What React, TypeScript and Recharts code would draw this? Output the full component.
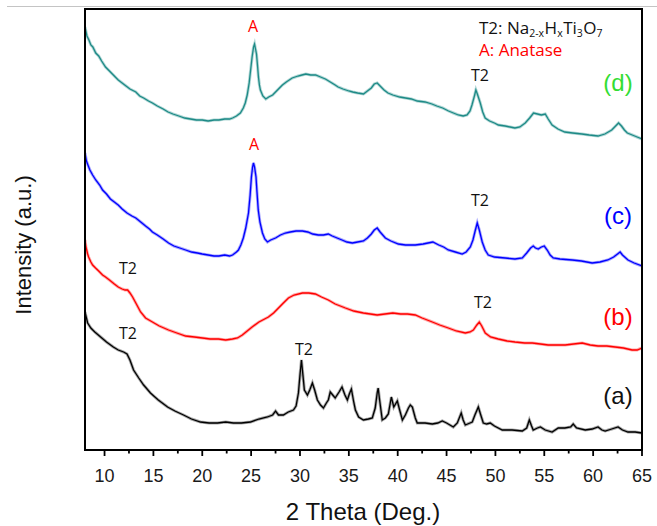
import React from 'react';
import { LineChart, Line, XAxis, YAxis } from 'recharts';

// 2θ tick positions (majors every 5°, minors halfway between)
const thetaTicks = [10, 12.5, 15, 17.5, 20, 22.5, 25, 27.5, 30, 32.5, 35, 37.5, 40, 42.5, 45, 47.5, 50, 52.5, 55, 57.5, 60, 62.5, 65];

// Each pattern: [2θ (deg), offset intensity (a.u.)]
const patternA: [number, number][] = [
  [8.0, 138], [8.27, 127], [8.6, 122], [9.0, 118], [9.6, 113], [10.2, 108], [10.9, 103], [11.4, 100],
  [11.95, 98], [12.3, 96], [12.6, 90], [12.97, 80], [13.5, 72], [14.0, 65], [14.7, 57], [15.5, 50],
  [16.45, 43], [17.2, 39], [18.08, 35], [18.9, 31], [19.82, 28], [20.7, 27], [21.56, 27], [22.4, 28],
  [23.19, 27], [24.0, 27], [24.93, 28], [25.8, 31], [26.67, 33], [27.2, 35], [27.5, 39], [27.8, 35],
  [28.3, 35], [28.8, 38], [29.33, 40], [29.6, 44], [29.84, 57], [30.0, 75], [30.15, 90], [30.3, 75],
  [30.45, 60], [30.76, 55], [31.0, 60], [31.27, 67], [31.5, 60], [31.78, 50], [32.1, 45], [32.4, 42],
  [32.7, 47], [32.9, 50], [33.1, 58], [33.35, 55], [33.6, 52], [34.0, 58], [34.3, 63], [34.6, 55],
  [34.85, 50], [35.05, 56], [35.26, 61], [35.5, 48], [35.67, 40], [36.0, 33], [36.49, 30], [37.0, 31],
  [37.4, 32], [37.7, 42], [37.9, 57], [38.0, 62], [38.15, 50], [38.42, 30], [38.74, 32], [39.04, 36],
  [39.35, 53], [39.5, 47], [39.6, 43], [39.96, 49], [40.2, 40], [40.48, 30], [40.78, 35], [41.1, 42],
  [41.29, 45], [41.5, 43], [41.8, 32], [42.0, 27], [42.8, 27], [43.54, 26], [44.1, 27], [44.56, 29],
  [45.0, 27], [45.69, 23], [46.1, 27], [46.5, 37], [46.7, 30], [46.92, 25], [47.4, 27], [47.63, 28],
  [47.9, 35], [48.25, 43], [48.5, 35], [48.76, 27], [49.1, 26], [49.47, 27], [49.9, 24], [50.7, 20],
  [51.7, 20], [52.75, 19], [53.2, 22], [53.47, 30], [53.7, 24], [53.87, 20], [54.3, 22], [54.6, 23],
  [55.1, 20], [55.8, 18], [56.43, 22], [57.1, 22], [57.7, 23], [57.96, 26], [58.3, 22], [59.19, 20],
  [59.9, 21], [60.5, 23], [60.9, 20], [61.23, 19], [61.9, 21], [62.55, 23], [63.0, 20], [63.57, 18],
  [64.3, 18], [65.0, 17],
];

const patternB: [number, number][] = [
  [8.0, 210], [8.1, 203], [8.27, 196], [8.37, 193], [8.6, 188], [8.78, 185], [9.08, 182], [9.4, 179],
  [9.8, 175], [10.1, 173], [10.5, 170], [11.0, 166], [11.4, 163], [11.8, 161], [12.1, 160], [12.36, 160],
  [12.6, 157], [12.87, 153], [13.2, 147], [13.69, 138], [14.2, 132], [14.9, 128], [15.6, 124], [16.55, 120],
  [17.4, 117], [18.29, 114], [19.2, 113], [20.02, 112], [20.8, 111], [21.66, 111], [22.4, 110], [23.09, 111],
  [23.6, 112], [24.1, 115], [24.6, 119], [25.1, 123], [25.8, 128], [26.77, 133], [27.3, 137], [27.8, 142],
  [28.3, 147], [28.82, 152], [29.4, 155], [30.25, 157], [30.9, 157], [31.58, 156], [32.2, 153], [32.9, 150],
  [33.6, 146], [34.65, 142], [35.5, 139], [36.49, 137], [37.2, 136], [37.9, 135], [38.7, 136], [39.5, 137],
  [40.3, 136], [41.0, 136], [41.8, 135], [42.5, 132], [43.54, 128], [44.3, 125], [45.18, 122], [46.0, 119],
  [46.92, 117], [47.4, 118], [47.74, 120], [48.1, 125], [48.35, 128], [48.6, 124], [48.96, 117], [49.5, 113],
  [50.29, 111], [51.2, 109], [52.0, 108], [53.0, 107], [53.77, 107], [54.6, 106], [55.4, 105], [56.3, 105],
  [57.14, 105], [58.0, 106], [58.88, 107], [59.7, 105], [60.5, 104], [61.4, 104], [62.25, 103], [63.1, 102],
  [63.98, 100], [64.5, 100], [65.0, 102],
];

const patternC: [number, number][] = [
  [8.0, 297], [8.15, 289], [8.3, 285], [8.5, 280], [8.78, 275], [9.1, 270], [9.5, 265], [9.8, 260],
  [10.2, 256], [10.6, 251], [11.0, 248], [11.4, 245], [11.8, 241], [12.3, 237], [12.8, 234], [13.2, 232],
  [13.7, 228], [14.2, 224], [14.6, 221], [14.9, 218], [15.4, 215], [16.0, 211], [16.55, 207], [17.1, 204],
  [17.7, 202], [18.3, 200], [18.9, 198], [19.5, 197], [20.0, 196], [20.6, 195], [21.2, 194], [21.7, 194],
  [22.3, 195], [22.8, 194], [23.1, 195], [23.5, 198], [23.7, 200], [23.95, 205], [24.2, 212], [24.45, 222],
  [24.73, 237], [24.9, 255], [25.03, 273], [25.15, 283], [25.24, 287], [25.35, 283], [25.5, 273], [25.6, 258],
  [25.73, 240], [25.9, 228], [26.16, 217], [26.4, 211], [26.67, 208], [27.0, 210], [27.5, 212], [28.0, 215],
  [28.5, 217], [29.0, 218], [29.6, 219], [30.25, 219], [30.8, 218], [31.3, 216], [31.88, 215], [32.4, 215],
  [32.9, 216], [33.3, 214], [33.8, 212], [34.3, 210], [34.8, 208], [35.36, 207], [35.9, 208], [36.49, 209],
  [36.9, 212], [37.3, 216], [37.6, 220], [37.9, 222], [38.2, 218], [38.74, 212], [39.3, 209], [40.07, 206],
  [40.8, 205], [41.8, 205], [42.6, 206], [43.1, 207], [43.6, 208], [44.2, 205], [44.7, 203], [45.18, 200],
  [45.9, 198], [46.6, 196], [47.0, 198], [47.43, 203], [47.7, 210], [47.95, 220], [48.14, 227], [48.35, 220],
  [48.65, 208], [48.95, 200], [49.27, 195], [49.9, 193], [51.0, 192], [52.0, 191], [52.75, 192], [53.2, 197],
  [53.6, 202], [53.87, 204], [54.1, 202], [54.38, 201], [54.7, 203], [55.0, 204], [55.3, 200], [55.6, 195],
  [55.92, 192], [56.6, 191], [57.86, 190], [58.8, 189], [59.9, 187], [60.7, 188], [61.5, 190], [62.1, 193],
  [62.5, 196], [62.76, 198], [63.0, 195], [63.57, 190], [64.2, 187], [65.0, 184],
];

const patternD: [number, number][] = [
  [8.0, 423], [8.2, 414], [8.4, 410], [8.6, 405], [8.8, 403], [9.1, 397], [9.4, 394], [9.7, 389],
  [10.1, 383], [10.4, 380], [10.8, 376], [11.1, 373], [11.4, 370], [11.8, 367], [12.2, 364], [12.6, 361],
  [13.2, 358], [13.6, 354], [14.0, 352], [14.5, 349], [14.9, 347], [15.4, 344], [16.0, 341], [16.5, 338],
  [17.0, 336], [17.6, 334], [18.2, 332], [18.8, 331], [19.4, 330], [20.0, 330], [20.6, 329], [21.2, 330],
  [21.7, 330], [22.3, 331], [22.8, 331], [23.1, 332], [23.5, 334], [23.9, 337], [24.2, 342], [24.4, 347],
  [24.6, 355], [24.8, 367], [24.95, 380], [25.1, 393], [25.25, 403], [25.35, 406], [25.45, 401], [25.55, 396],
  [25.65, 385], [25.75, 373], [25.85, 365], [25.95, 360], [26.2, 354], [26.5, 351], [26.8, 353], [27.2, 355],
  [27.6, 359], [28.0, 363], [28.2, 365], [28.6, 368], [29.2, 372], [29.8, 374], [30.2, 375], [30.6, 376],
  [31.1, 375], [31.6, 375], [32.1, 373], [32.6, 371], [33.1, 368], [33.6, 365], [33.9, 363], [34.4, 361],
  [35.0, 359], [35.4, 358], [35.9, 357], [36.5, 356], [36.9, 359], [37.3, 362], [37.6, 366], [37.9, 367],
  [38.2, 364], [38.6, 360], [39.0, 357], [39.5, 355], [40.2, 353], [40.8, 352], [41.4, 351], [42.0, 349],
  [42.8, 348], [43.5, 346], [44.0, 344], [44.6, 342], [45.2, 339], [45.7, 337], [46.2, 335], [46.7, 334],
  [47.1, 335], [47.4, 339], [47.6, 345], [47.85, 354], [48.0, 360], [48.15, 356], [48.45, 347], [48.7, 338],
  [48.95, 332], [49.4, 329], [49.9, 327], [50.3, 325], [51.0, 324], [51.5, 323], [52.0, 322], [52.5, 323],
  [53.05, 327], [53.5, 332], [53.9, 337], [54.3, 336], [54.7, 335], [55.1, 336], [55.4, 331], [55.8, 325],
  [56.4, 321], [57.1, 318], [57.9, 317], [58.85, 316], [59.6, 315], [60.5, 314], [61.2, 316], [61.9, 320],
  [62.3, 324], [62.6, 327], [62.9, 324], [63.2, 320], [63.5, 317], [64.0, 315], [64.5, 313], [65.0, 311],
];

const seriesColors = { a: '#000000', b: '#ff0000', c: '#0000ff', d: '#1d8a86' };

const toPoints = (p: [number, number][]) => p.map(([theta, intensity]) => ({ theta, intensity }));

const TITLE_FONT = '"Liberation Sans", Arial, sans-serif';
const NOTE_FONT = '"Open Sans", "Noto Sans", sans-serif';

// chart box and the plot frame derived from its margins
const CHART_W = 657;
const CHART_H = 526;
const AXIS_H = 76;
const MARGIN = { top: 9, right: 15, bottom: 0, left: 85 };
const FRAME_W = 2;

function ThetaTick(props: any) {
  const { x, y, payload } = props;
  const major = payload.value % 5 === 0;
  return (
    <g>
      <line x1={x} x2={x} y1={y} y2={y + (major ? 6 : 3.5)} stroke="#000" strokeWidth={1.8} />
      {major && (
        <text x={x} y={y + 32} textAnchor="middle" fontSize={18} fontFamily={TITLE_FONT} fill="#1a1a1a">
          {payload.value}
        </text>
      )}
    </g>
  );
}

const Note = ({ x, y, children, color = '#111' }: any) => (
  <text x={x} y={y} textAnchor="middle" fontSize={16} fontFamily={NOTE_FONT} fill={color}>
    {children}
  </text>
);

const SampleLabel = ({ x, y, children, color }: any) => (
  <text x={x} y={y} textAnchor="middle" fontSize={24} fontFamily={TITLE_FONT} fill={color}>
    {children}
  </text>
);

// a pattern drawn as a faint wide band under a crisp trace, giving the noisy scan look
function scanLines(key: string, pattern: [number, number][], color: string) {
  const pts = toPoints(pattern);
  return [
    <Line key={key + '-band'} data={pts} dataKey="intensity" stroke={color} strokeOpacity={0.35} strokeWidth={3}
      dot={false} activeDot={false} isAnimationActive={false} />,
    <Line key={key} data={pts} dataKey="intensity" stroke={color} strokeWidth={1.3}
      dot={false} activeDot={false} isAnimationActive={false} />,
  ];
}

export default function App() {
  return (
    <div style={{ position: 'absolute', left: 0, top: 0, width: CHART_W, height: CHART_H, background: '#fff' }}>
      <LineChart width={CHART_W} height={CHART_H} margin={MARGIN}>
        <line x1={7} y1={6.5} x2={CHART_W} y2={6.5} stroke="#c4c4c4" strokeWidth={1} />
        <XAxis
          type="number"
          dataKey="theta"
          domain={[8, 65]}
          ticks={thetaTicks}
          interval={0}
          tick={<ThetaTick />}
          tickLine={false}
          tickSize={0}
          tickMargin={0}
          axisLine={false}
          height={AXIS_H}
          allowDataOverflow
        />
        <YAxis type="number" domain={[0, 441]} hide allowDataOverflow />

        {scanLines('a', patternA, seriesColors.a)}
        {scanLines('b', patternB, seriesColors.b)}
        {scanLines('c', patternC, seriesColors.c)}
        {scanLines('d', patternD, seriesColors.d)}

        {/* phase markers */}
        <Note x={253} y={32} color="#ff0000">A</Note>
        <Note x={254} y={150} color="#ff0000">A</Note>
        <Note x={480} y={81}>T2</Note>
        <Note x={480} y={206}>T2</Note>
        <Note x={483} y={308}>T2</Note>
        <Note x={128} y={274}>T2</Note>
        <Note x={128} y={339}>T2</Note>
        <Note x={304} y={355}>T2</Note>

        {/* phase key */}
        <text x={479} y={34} fontSize={17} fontFamily={NOTE_FONT} fill="#111">
          T2: Na
          <tspan fontSize={10.5} dy={3}>2-x</tspan>
          <tspan dx={0.5} dy={-3}>H</tspan>
          <tspan fontSize={10.5} dy={3}>x</tspan>
          <tspan dx={0.5} dy={-3}>Ti</tspan>
          <tspan fontSize={10.5} dy={3}>3</tspan>
          <tspan dx={0.5} dy={-3}>O</tspan>
          <tspan fontSize={10.5} dy={3}>7</tspan>
        </text>
        <text x={479} y={56} fontSize={17} fontFamily={NOTE_FONT} fill="#ff0000">A: Anatase</text>

        {/* sample labels */}
        <SampleLabel x={618} y={91} color="#33dd33">(d)</SampleLabel>
        <SampleLabel x={618} y={224} color="#0000ff">(c)</SampleLabel>
        <SampleLabel x={618} y={325} color="#ff0000">(b)</SampleLabel>
        <SampleLabel x={618} y={404} color="#111">(a)</SampleLabel>

        {/* axis titles */}
        <text x={363} y={520} textAnchor="middle" fontSize={24} fontFamily={TITLE_FONT} fill="#111">2 Theta (Deg.)</text>
        <text transform="rotate(-90)" x={-245} y={31} textAnchor="middle" fontSize={22} fontFamily={TITLE_FONT} fill="#111">
          Intensity (a.u.)
        </text>
      </LineChart>
      {/* plot frame laid over the chart's plot box */}
      <div
        style={{
          position: 'absolute',
          left: MARGIN.left - FRAME_W / 2,
          top: MARGIN.top - FRAME_W / 2,
          width: CHART_W - MARGIN.left - MARGIN.right + FRAME_W,
          height: CHART_H - MARGIN.top - AXIS_H + FRAME_W,
          border: `${FRAME_W}px solid #000`,
          boxSizing: 'border-box',
          pointerEvents: 'none',
        }}
      />
    </div>
  );
}
